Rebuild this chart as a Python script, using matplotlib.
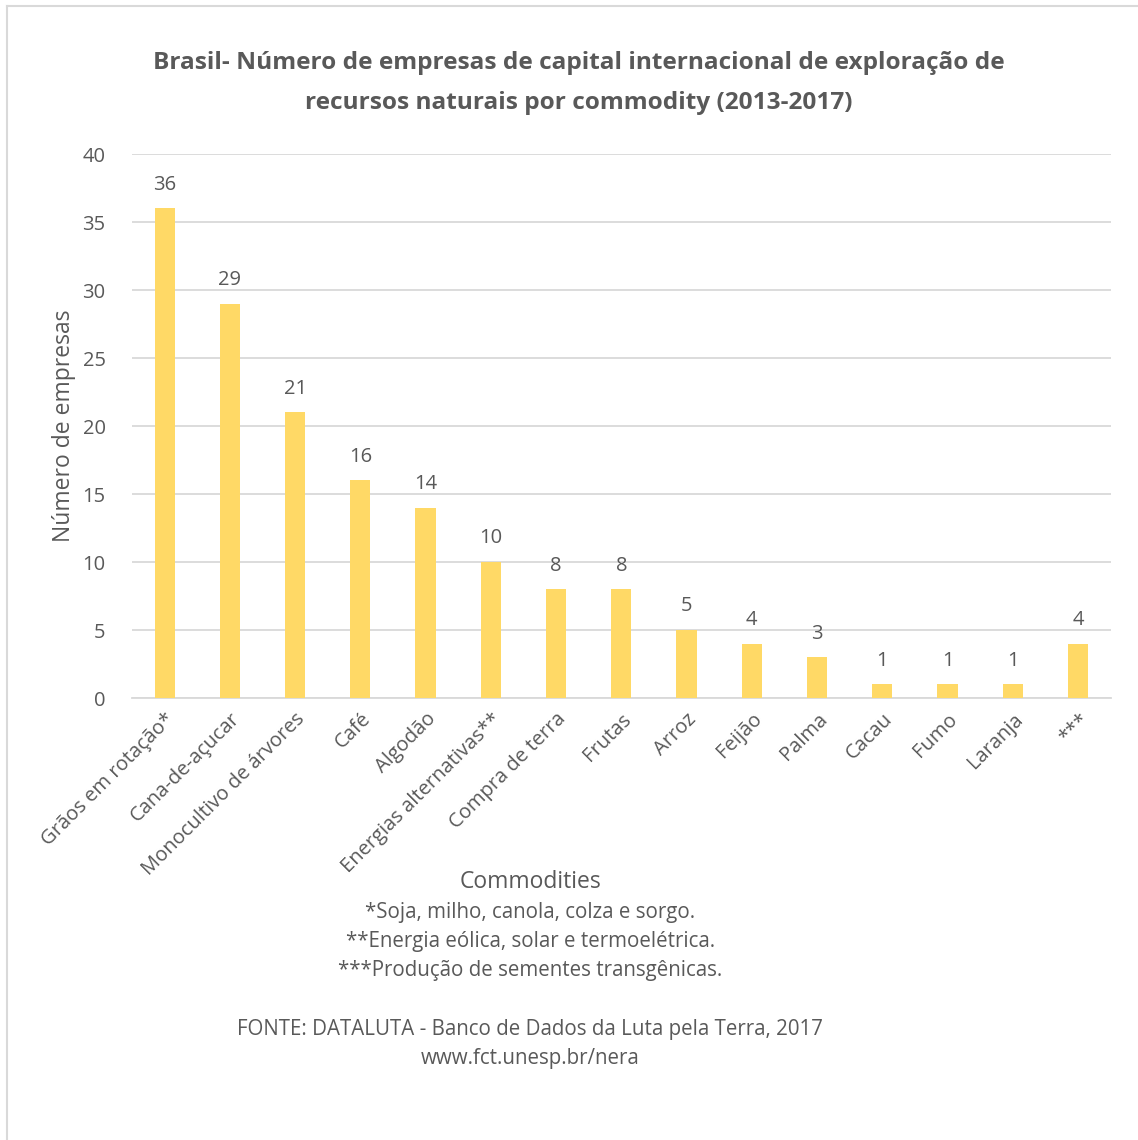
import matplotlib.pyplot as plt
from matplotlib.lines import Line2D

plt.rcParams['font.family'] = ['Open Sans', 'DejaVu Sans']

categorias = ['Grãos em rotação*', 'Cana-de-açucar', 'Monocultivo de árvores', 'Café',
              'Algodão', 'Energias alternativas**', 'Compra de terra', 'Frutas', 'Arroz',
              'Feijão', 'Palma', 'Cacau', 'Fumo', 'Laranja', '***']
empresas = [36, 29, 21, 16, 14, 10, 8, 8, 5, 4, 3, 1, 1, 1, 4]
y_ticks = [0, 5, 10, 15, 20, 25, 30, 35, 40]

cor_texto = '#595959'
cor_barra = '#FFD966'
cor_grade = '#D9D9D9'

fig = plt.figure(figsize=(11.38, 11.40), dpi=100)
ax = fig.add_axes([0.116, 0.3877, 0.860, 0.4772])

x = range(len(categorias))
ax.bar(x, empresas, width=0.31, color=cor_barra, zorder=3)
for i, v in zip(x, empresas):
    ax.text(i, v + 1.0, str(v), ha='center', va='bottom', fontsize=14.5, color=cor_texto)

ax.set_xlim(-0.5, len(categorias) - 0.5)
ax.set_ylim(0, 40)
ax.set_yticks(y_ticks)
ax.yaxis.grid(True, color=cor_grade, linewidth=1.3, zorder=0)
ax.set_axisbelow(True)
for s in ['top', 'right', 'left']:
    ax.spines[s].set_visible(False)
ax.spines['bottom'].set_color(cor_grade)
ax.spines['bottom'].set_linewidth(1.3)
ax.tick_params(axis='both', length=0, colors=cor_texto, labelsize=14.5)
ax.tick_params(axis='y', pad=19)
ax.set_xticks(list(x))
ax.set_xticklabels(categorias, rotation=45, ha='right', rotation_mode='anchor')
ax.tick_params(axis='x', pad=8)
ax.set_ylabel('Número de empresas', fontsize=16.5, color=cor_texto, labelpad=5)

fig.text(0.509, 0.927, 'Brasil- Número de empresas de capital internacional de exploração de\nrecursos naturais por commodity (2013-2017)',
         ha='center', va='center', fontsize=17.6, fontweight='bold', color=cor_texto, linespacing=1.9)

fig.text(0.466, 0.226, 'Commodities', ha='center', va='center', fontsize=16.5, color=cor_texto)
fig.text(0.466, 0.1737, '*Soja, milho, canola, colza e sorgo.\n**Energia eólica, solar e termoelétrica.\n***Produção de sementes transgênicas.',
         ha='center', va='center', fontsize=14.8, color=cor_texto, linespacing=1.5)
fig.text(0.466, 0.0838, 'FONTE: DATALUTA - Banco de Dados da Luta pela Terra, 2017\nwww.fct.unesp.br/nera',
         ha='center', va='center', fontsize=14.8, color=cor_texto, linespacing=1.5)

# moldura do gráfico (só topo e esquerda aparecem)
fig.add_artist(Line2D([7 / 1138, 1.0], [1 - 6 / 1140] * 2, color=cor_grade, linewidth=1.5))
fig.add_artist(Line2D([7 / 1138] * 2, [0.0, 1 - 6 / 1140], color=cor_grade, linewidth=1.5))

fig.savefig('out.png', dpi=100)
